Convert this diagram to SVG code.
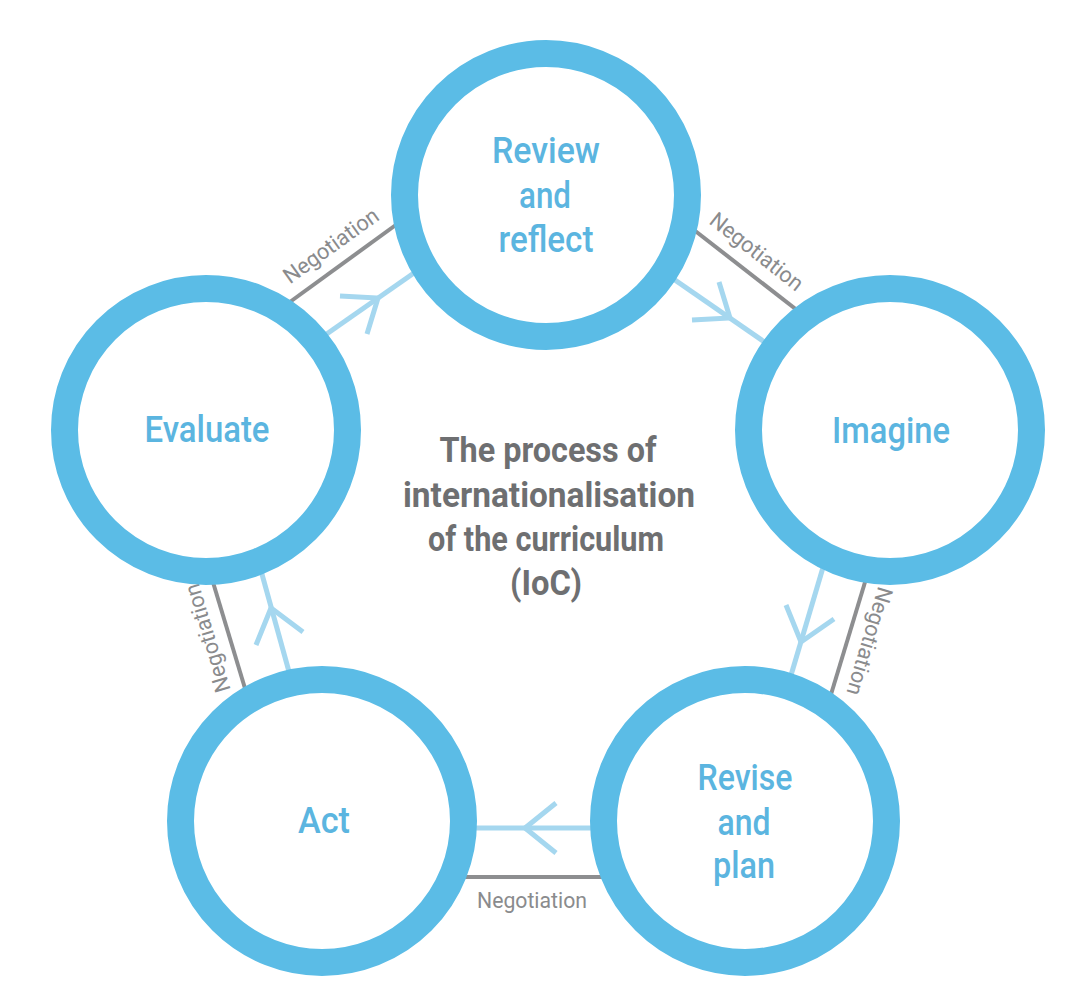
<svg xmlns="http://www.w3.org/2000/svg" width="1070" height="990" viewBox="0 0 1070 990">
<style>
.ring{fill:#fff;stroke:#5bbce6;stroke-width:27}
.lbl{font-family:Roboto,"Liberation Sans",sans-serif;font-size:37px;font-weight:500;fill:#5bb5e0;text-anchor:middle}
.neg{stroke:#8d8e90;stroke-width:4;fill:none}
.negt{font-family:Roboto,"Liberation Sans",sans-serif;font-size:22px;fill:#8a8b8d;text-anchor:middle}
.flow{stroke:#a5d7ef;stroke-width:5;fill:none}
.ctr{font-family:Roboto,"Liberation Sans",sans-serif;font-size:35px;font-weight:bold;fill:#6e6f71;text-anchor:middle}
</style>
<rect width="1070" height="990" fill="#fff"/>
<g id="connectors">
<line class="neg" x1="283" y1="307" x2="404" y2="219"/>
<line class="neg" x1="685" y1="223" x2="802" y2="314"/>
<line class="neg" x1="869" y1="569" x2="829" y2="701"/>
<line class="neg" x1="455" y1="877" x2="610" y2="877"/>
<line class="neg" x1="247" y1="695" x2="209" y2="569"/>
<line class="flow" x1="288" y1="361" x2="444" y2="252"/>
<polyline class="flow" points="340,296 378,298 367,334"/>
<line class="flow" x1="607" y1="233" x2="779" y2="352"/>
<polyline class="flow" points="719,282 730,318 692,320"/>
<line class="flow" x1="838" y1="517" x2="778" y2="719"/>
<polyline class="flow" points="834,619 801,642 786,605"/>
<line class="flow" x1="620" y1="828" x2="430" y2="828"/>
<polyline class="flow" points="556,803 525,828 556,853"/>
<line class="flow" x1="306" y1="733" x2="250" y2="531"/>
<polyline class="flow" points="256,645 271,608 303,632"/>
<g transform="translate(343.5,263) rotate(-35.8)"><text class="negt" x="0" y="-14" textLength="112" lengthAdjust="spacingAndGlyphs">Negotiation</text></g>
<g transform="translate(743.5,268.5) rotate(38.1)"><text class="negt" x="0" y="-14" textLength="112" lengthAdjust="spacingAndGlyphs">Negotiation</text></g>
<g transform="translate(849,635) rotate(106.8)"><text class="negt" x="0" y="-14" textLength="112" lengthAdjust="spacingAndGlyphs">Negotiation</text></g>
<g transform="translate(228,632) rotate(-106.7)"><text class="negt" x="0" y="-14" textLength="112" lengthAdjust="spacingAndGlyphs">Negotiation</text></g>
<text class="negt" x="532" y="908" textLength="110" lengthAdjust="spacingAndGlyphs">Negotiation</text>
</g>
<g id="review">
<circle class="ring" cx="546" cy="195" r="141.5"/>
<text class="lbl" x="546" y="163" textLength="108" lengthAdjust="spacingAndGlyphs">Review</text>
<text class="lbl" x="545" y="208" textLength="52" lengthAdjust="spacingAndGlyphs">and</text>
<text class="lbl" x="546" y="252" textLength="95" lengthAdjust="spacingAndGlyphs">reflect</text>
</g>
<g id="imagine">
<circle class="ring" cx="890" cy="430" r="141.5"/>
<text class="lbl" x="891" y="443" textLength="118" lengthAdjust="spacingAndGlyphs">Imagine</text>
</g>
<g id="evaluate">
<circle class="ring" cx="206" cy="430" r="141.5"/>
<text class="lbl" x="207" y="442" textLength="125" lengthAdjust="spacingAndGlyphs">Evaluate</text>
</g>
<g id="act">
<circle class="ring" cx="322" cy="821" r="141.5"/>
<text class="lbl" x="324" y="833" textLength="52" lengthAdjust="spacingAndGlyphs">Act</text>
</g>
<g id="revise">
<circle class="ring" cx="745" cy="821" r="141.5"/>
<text class="lbl" x="745" y="790" textLength="95" lengthAdjust="spacingAndGlyphs">Revise</text>
<text class="lbl" x="744" y="835" textLength="53" lengthAdjust="spacingAndGlyphs">and</text>
<text class="lbl" x="744" y="878" textLength="62" lengthAdjust="spacingAndGlyphs">plan</text>
</g>
<g id="title">
<text class="ctr" x="548" y="462" textLength="217" lengthAdjust="spacingAndGlyphs">The process of</text>
<text class="ctr" x="549" y="507" textLength="292" lengthAdjust="spacingAndGlyphs">internationalisation</text>
<text class="ctr" x="546" y="551" textLength="236" lengthAdjust="spacingAndGlyphs">of the curriculum</text>
<text class="ctr" x="546" y="595" textLength="72" lengthAdjust="spacingAndGlyphs">(IoC)</text>
</g>
</svg>
